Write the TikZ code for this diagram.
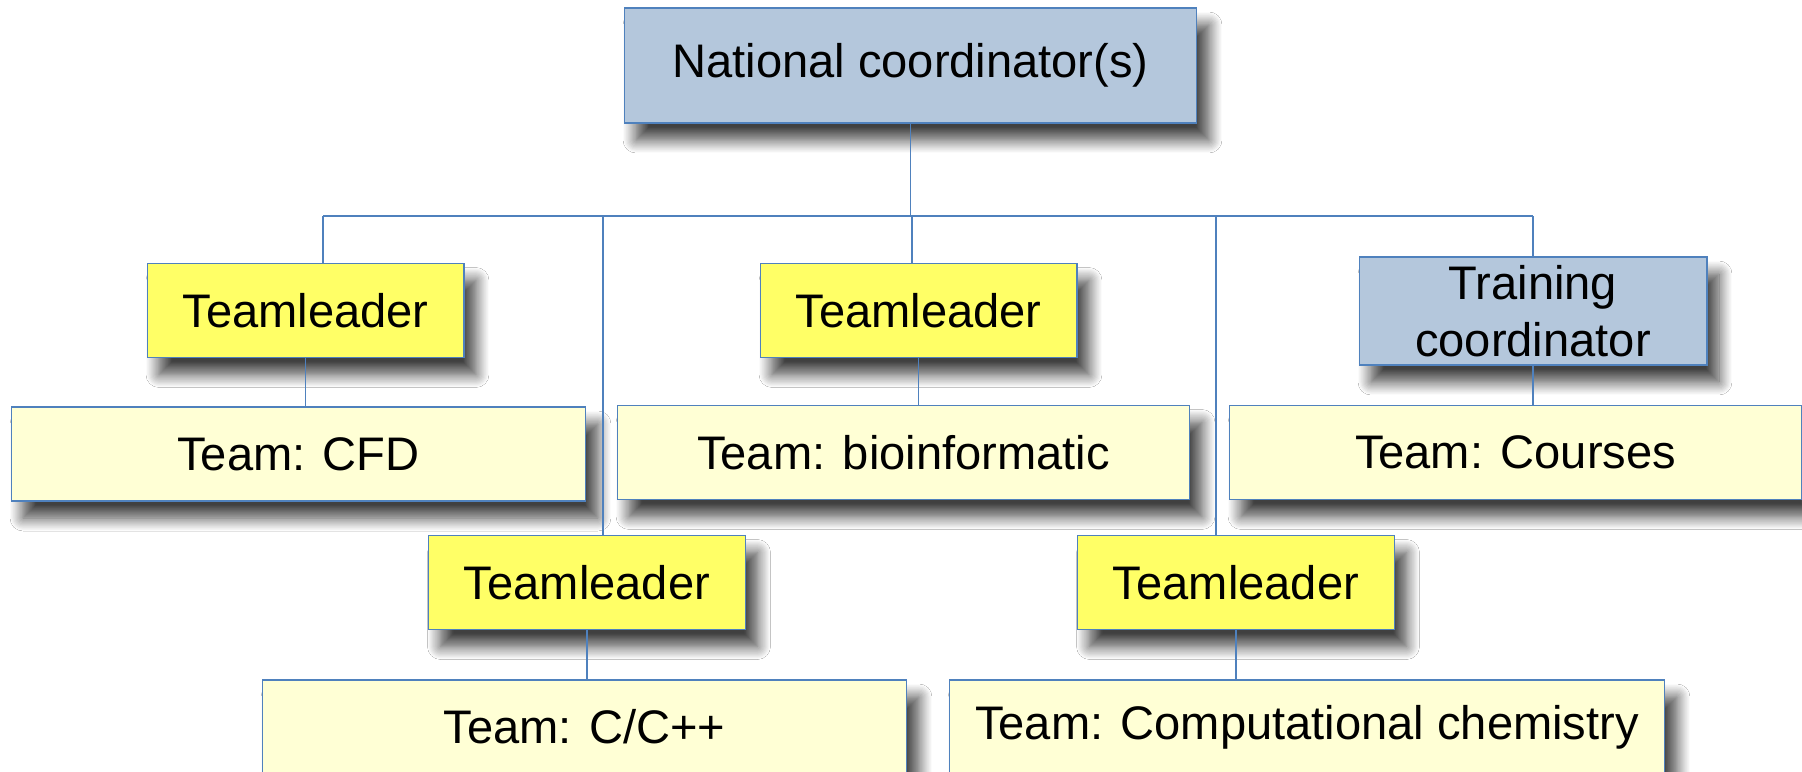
\documentclass[tikz,border=0pt]{standalone}
\usepackage{fontspec}
\setmainfont{Liberation Sans}
\usetikzlibrary{shadows.blur}
\definecolor{bluefill}{HTML}{B4C7DC}
\definecolor{blueline}{HTML}{4F81BD}
\definecolor{tlfill}{HTML}{FFFF66}
\definecolor{teamfill}{HTML}{FFFFD5}
\begin{document}
\begin{tikzpicture}[x=0.02cm,y=-0.02cm,
  box/.style={draw=blueline, line width=0.6pt, inner sep=0pt, outer sep=0pt, align=center,
    font=\fontsize{26.8}{32.2}\selectfont,
    blur shadow={shadow xshift=0.24cm, shadow yshift=-0.34cm, shadow blur radius=0.26cm, shadow blur steps=12, shadow opacity=75}},
  coordbox/.style={box, fill=bluefill},
  leadbox/.style={box, fill=tlfill, minimum width=6.34cm, minimum height=1.88cm},
  teambox/.style={box, fill=teamfill, minimum height=1.88cm},
  link/.style={draw=blueline, line width=0.6pt}]
\path[use as bounding box, clip] (0,0) rectangle (1802,771);
\fill[white] (0,0) rectangle (1802,771);

\node[coordbox, minimum width=11.46cm, minimum height=2.3cm] (nat) at (910.5,65.5) {National coordinator(s)};
\node[leadbox] (tl1) at (305.5,310.5) {Teamleader};
\node[leadbox] (tl2) at (918.5,310.5) {Teamleader};
\node[leadbox] (tl3) at (587,582.5) {Teamleader};
\node[leadbox] (tl4) at (1236,582.5) {Teamleader};
\node[coordbox, minimum width=6.96cm, minimum height=2.16cm] (tc) at (1533,311) {Training\\coordinator};
\node[teambox, minimum width=11.5cm] (cfd) at (298.5,454) {Team: CFD};
\node[teambox, minimum width=11.46cm] (bio) at (903.5,452.5) {Team: bioinformatic};
\node[teambox, minimum width=11.46cm] (crs) at (1515.5,452.5) {Team: Courses};
\node[teambox, minimum width=12.9cm] (cpp) at (584.5,727) {Team: C/C++};
\node[teambox, minimum width=14.32cm] (chem) at (1307,727) {Team: Computational chemistry};

\coordinate (b1) at (323,216);
\coordinate (b2) at (603,216);
\coordinate (b3) at (912,216);
\coordinate (b4) at (1216,216);
\coordinate (b5) at (1533,216);

\draw[link] (nat.south) -- (nat.south |- b1);
\draw[link] (b1) -- (b5);
\draw[link] (b1) -- (b1 |- tl1.north);
\draw[link] (b2) -- (b2 |- tl3.north);
\draw[link] (b3) -- (b3 |- tl2.north);
\draw[link] (b4) -- (b4 |- tl4.north);
\draw[link] (b5) -- (tc.north);
\draw[link] (tl1.south) -- (tl1.south |- cfd.north);
\draw[link] (tl2.south) -- (tl2.south |- bio.north);
\draw[link] (tc.south) -- (tc.south |- crs.north);
\draw[link] (tl3.south) -- (tl3.south |- cpp.north);
\draw[link] (tl4.south) -- (tl4.south |- chem.north);
\end{tikzpicture}
\end{document}
